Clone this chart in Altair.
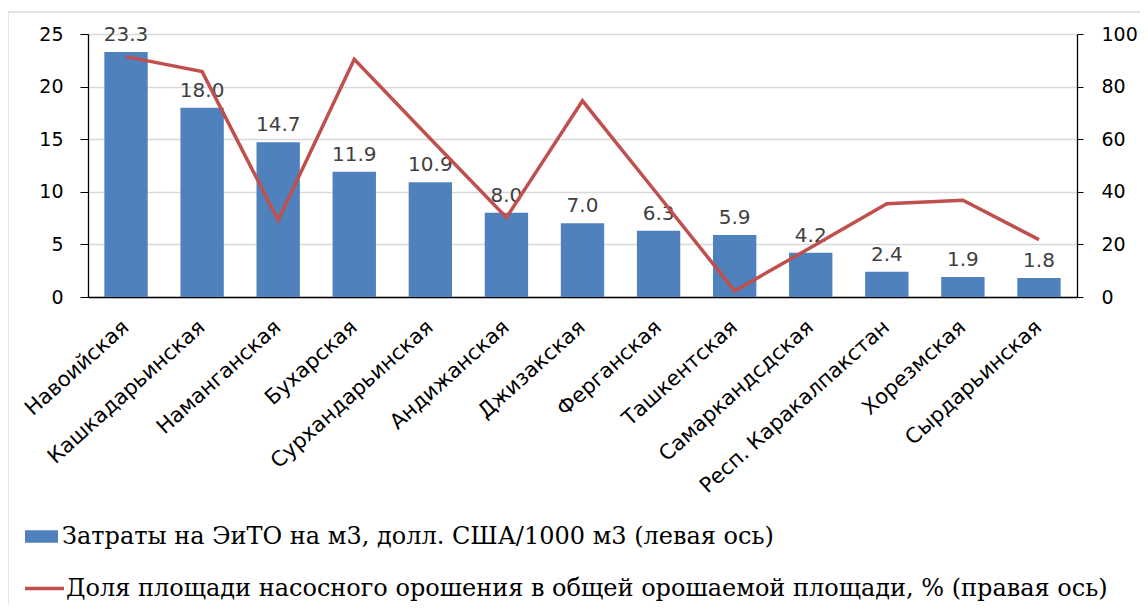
import altair as alt
import pandas as pd

regions = ["Навоийская", "Кашкадарьинская", "Наманганская", "Бухарская",
           "Сурхандарьинская", "Андижанская", "Джизакская", "Ферганская",
           "Ташкентская", "Самаркандсдская", "Респ. Каракалпакстан",
           "Хорезмская", "Сырдарьинская"]
costs = [23.3, 18.0, 14.7, 11.9, 10.9, 8.0, 7.0, 6.3, 5.9, 4.2, 2.4, 1.9, 1.8]
shares = [91.4, 85.7, 29.2, 90.4, 60.2, 30.2, 74.6, 38.6, 2.3, 18.8, 35.5, 36.8, 21.8]

name_bar = "Затраты на ЭиТО на м3, долл. США/1000 м3 (левая ось)"
name_line = "Доля площади насосного орошения в общей орошаемой площади, % (правая ось)"

df = pd.DataFrame({
    "region": regions,
    "cost": costs,
    "share": shares,
    "s1": [name_bar] * len(regions),
    "s2": [name_line] * len(regions),
})

SANS = "DejaVu Sans"
SERIF = "DejaVu Serif"
BLUE = "#4F81BD"
RED = "#C0504D"

base = alt.Chart(df).encode(
    x=alt.X("region:N", sort=regions,
            scale=alt.Scale(paddingInner=0.43, paddingOuter=0.215),
            axis=alt.Axis(title=None, labelAngle=-42, labelAlign="right",
                          labelBaseline="middle", ticks=False, labelPadding=27,
                          labelFont=SANS, labelFontSize=21, labelColor="#000000",
                          domainColor="#000000", domainWidth=1.3, labelLimit=0))
)

bars = base.mark_bar().encode(
    y=alt.Y("cost:Q", scale=alt.Scale(domain=[0, 25], nice=False),
            axis=alt.Axis(title=None, orient="left", values=[0, 5, 10, 15, 20, 25],
                          grid=True, gridColor="#D9D9D9", gridWidth=1.3,
                          tickSize=8, tickColor="#000000", domainColor="#000000",
                          domainWidth=1.3, labelPadding=17, labelFont=SANS,
                          labelFontSize=19, labelColor="#000000")),
    color=alt.Color("s1:N", scale=alt.Scale(domain=[name_bar], range=[BLUE]),
                    legend=alt.Legend(title=None, orient="none", legendX=-63, legendY=486,
                                      symbolType="M-1,-0.385H1V0.385H-1Z", symbolSize=1089,
                                      symbolStrokeWidth=0, labelOffset=4,
                                      labelFont=SERIF, labelFontSize=24, labelColor="#000000",
                                      labelLimit=0, padding=0)),
)

labels = base.mark_text(baseline="alphabetic", dy=-11, font=SANS, fontSize=20,
                        color="#404040").encode(
    y=alt.Y("cost:Q"),
    text=alt.Text("cost:Q", format=".1f"),
)

line = base.mark_line(strokeWidth=3.5).encode(
    y=alt.Y("share:Q", scale=alt.Scale(domain=[0, 100], nice=False),
            axis=alt.Axis(title=None, orient="right", values=[0, 20, 40, 60, 80, 100],
                          grid=False, tickSize=6, tickColor="#000000",
                          domainColor="#000000", domainWidth=1.3, labelPadding=18,
                          labelFont=SANS, labelFontSize=19, labelColor="#000000")),
    stroke=alt.Stroke("s2:N", scale=alt.Scale(domain=[name_line], range=[RED]),
                      legend=alt.Legend(title=None, orient="none", legendX=-65, legendY=533,
                                        symbolType="stroke", symbolSize=1521,
                                        symbolStrokeWidth=3.5, labelOffset=0,
                                        labelFont=SERIF, labelFontSize=24,
                                        labelColor="#000000", labelLimit=0, padding=0)),
)

frame = alt.Chart(pd.DataFrame({"f": [0]})).mark_rect(
    fill=None, stroke="#D9D9D9", strokeWidth=1.3
).encode(x=alt.value(-80), x2=alt.value(1100), y=alt.value(-22), y2=alt.value(700))

chart = alt.layer(frame, alt.layer(bars, labels), line).resolve_scale(
    y="independent", color="independent"
).properties(
    width=989, height=263,
    autosize=alt.AutoSizeParams(type="none"),
    padding={"left": 80, "top": 26, "right": 63, "bottom": 308},
).configure_view(stroke=None).configure(background="#FFFFFF")

chart.save("out.html", embed_options={"renderer": "svg", "actions": False})
